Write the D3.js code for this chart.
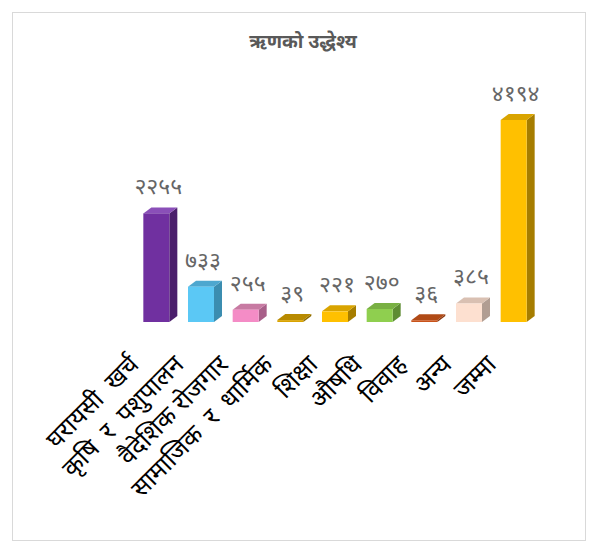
<!DOCTYPE html>
<html>
<head>
<meta charset="utf-8">
<script src="https://cdn.jsdelivr.net/npm/d3@7"></script>
<style>
  body { margin: 0; background: #fff; }
  text { font-family: "Noto Sans Devanagari", "Noto Sans", sans-serif; }
</style>
</head>
<body>
<svg id="chart" width="598" height="546"></svg>
<script>
var title = 'ऋणको उद्धेश्य';
var categories = ['घरायसी  खर्च', 'कृषि  र  पशुपालन', 'वैदेशिक रोजगार', 'सामाजिक  र  धार्मिक', 'शिक्षा', 'औषधि', 'विवाह', 'अन्य', 'जम्मा'];
var values = [2255, 733, 255, 39, 221, 270, 36, 385, 4194];
var fronts = ['#7030a0', '#5bc8f5', '#f48cc6', '#d9a300', '#ffc000', '#8fcf4f', '#c9531a', '#fde0d0', '#ffc000'];
var sides = ['#4b1f6c', '#3b8db0', '#a85f89', '#8c6a00', '#a67d00', '#5e8c33', '#8a3710', '#b19d92', '#a67d00'];
var tops = ['#8a4fb8', '#4da7cf', '#c77aa2', '#b88a00', '#d9a400', '#79b043', '#b04a16', '#d9c0b2', '#d9a400'];

var devDigits = '०१२३४५६७८९';
function dev(n) { return String(n).replace(/[0-9]/g, d => devDigits[+d]); }

var svg = d3.select('#chart');
var dx = 8, dy = 6, bw = 26;

svg.append('rect').attr('x', 12.5).attr('y', 12.5).attr('width', 573).attr('height', 528)
  .attr('fill', '#fff').attr('stroke', '#d9d9d9');

svg.append('text').attr('x', 303).attr('y', 48).attr('text-anchor', 'middle')
  .attr('font-size', 19).attr('font-weight', 'bold').attr('fill', '#595959').text(title);

var x = d3.scaleBand().domain(categories).range([136, 538]).paddingInner(0);
var y = d3.scaleLinear().domain([0, 4194]).range([322, 120]);

var g = svg.selectAll('g.bar').data(values).enter().append('g').attr('class', 'bar');

function bx(i) { return x(categories[i]) + (x.bandwidth() - bw - dx) / 2 + 2; }

// right side face
g.append('path').attr('fill', (d, i) => sides[i]).attr('d', (d, i) => {
  var x0 = bx(i) + bw, yt = y(d), yb = y(0);
  return 'M' + x0 + ',' + yt + 'L' + (x0 + dx) + ',' + (yt - dy) + 'L' + (x0 + dx) + ',' + (yb - dy) + 'L' + x0 + ',' + yb + 'Z';
});
// top face
g.append('path').attr('fill', (d, i) => tops[i]).attr('d', (d, i) => {
  var x0 = bx(i), yt = y(d);
  return 'M' + x0 + ',' + yt + 'L' + (x0 + dx) + ',' + (yt - dy) + 'L' + (x0 + bw + dx) + ',' + (yt - dy) + 'L' + (x0 + bw) + ',' + yt + 'Z';
});
// front face
g.append('rect').attr('fill', (d, i) => fronts[i])
  .attr('x', (d, i) => bx(i)).attr('y', d => y(d))
  .attr('width', bw).attr('height', d => y(0) - y(d));

// value labels
g.append('text').attr('text-anchor', 'middle').attr('font-size', 23).attr('fill', '#666')
  .attr('x', (d, i) => bx(i) + (bw + dx) / 2 - 2).attr('y', d => y(d) - 19)
  .text(d => dev(d));

// category labels
svg.selectAll('text.cat').data(categories).enter().append('text').attr('class', 'cat')
  .attr('text-anchor', 'end').attr('font-size', 25).attr('fill', '#000')
  .attr('transform', d => 'translate(' + (x(d) + x.bandwidth() / 2 - 18) + ',366) rotate(-45)')
  .attr('xml:space', 'preserve').style('white-space', 'pre')
  .text(d => d);
</script>
</body>
</html>
